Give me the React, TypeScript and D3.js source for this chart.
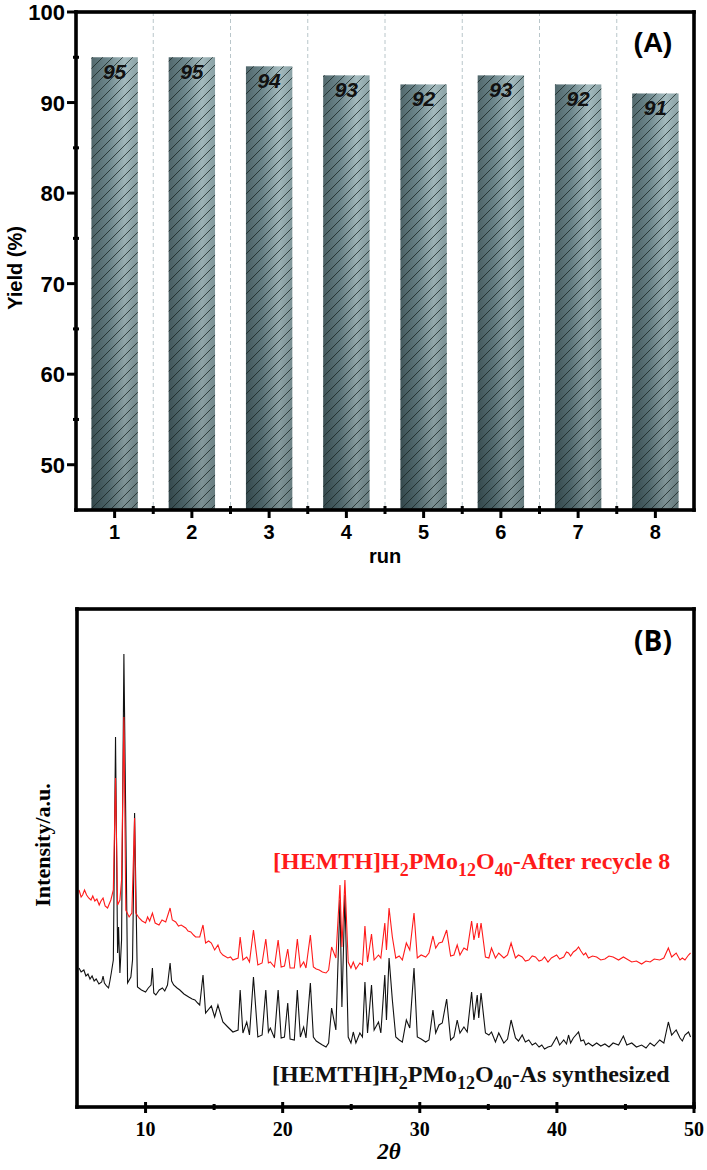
import * as d3 from 'd3'

// ---- panel A: recycling yields ----
const runs = ['1', '2', '3', '4', '5', '6', '7', '8']
const yields = [95, 95, 94, 93, 92, 93, 92, 91]
const yieldTicks = [50, 60, 70, 80, 90, 100]
const yieldMinorTicks = [55, 65, 75, 85, 95]

// ---- panel B: XRD patterns (2θ, intensity a.u.) ----
const thetaTicks = [10, 20, 30, 40, 50]
const thetaMinorTicks = [15, 25, 35, 45]

const asSynthesized: [number, number][] = [
  [5.15, 139], [5.3, 135], [5.5, 137], [5.65, 131], [5.8, 133], [5.95, 128], [6.1, 131], [6.25, 126],
  [6.4, 128], [6.6, 123], [6.8, 125], [6.9, 131], [7.0, 124], [7.15, 121], [7.3, 119], [7.4, 126],
  [7.5, 134], [7.65, 147], [7.81, 370], [7.96, 154], [8.03, 180], [8.13, 134], [8.25, 167], [8.42, 453],
  [8.69, 124], [8.93, 130], [9.05, 147], [9.2, 294], [9.41, 120], [9.7, 117], [10.0, 115], [10.2, 119],
  [10.4, 122], [10.5, 139], [10.6, 114], [10.75, 112], [11.0, 117], [11.23, 119], [11.4, 116],
  [11.6, 122], [11.79, 144], [11.9, 126], [12.05, 122], [12.3, 119], [12.5, 117], [12.8, 113],
  [13.15, 110], [13.4, 108], [13.6, 107], [13.8, 104], [13.95, 102], [14.19, 132], [14.38, 94],
  [14.8, 101], [15.04, 90], [15.28, 102], [15.64, 85], [16.0, 80], [16.37, 75], [16.75, 77], [16.9, 117],
  [17.1, 74], [17.38, 85], [17.58, 72], [17.87, 130], [18.19, 70], [18.5, 72], [18.77, 117], [18.96, 75],
  [19.1, 79], [19.4, 69], [19.67, 117], [19.89, 69], [20.13, 70], [20.37, 104], [20.54, 68], [20.85, 67],
  [21.07, 117], [21.29, 70], [21.53, 80], [21.7, 69], [22.02, 124], [22.24, 70], [22.45, 66],
  [22.67, 64], [22.9, 62], [23.16, 60], [23.35, 64], [23.57, 99], [23.88, 77], [24.18, 207], [24.32, 100],
  [24.54, 212], [24.78, 70], [24.98, 64], [25.15, 75], [25.34, 64], [25.63, 74], [25.82, 70], [26.0, 125],
  [26.19, 74], [26.48, 122], [26.67, 77], [26.99, 85], [27.16, 74], [27.45, 132], [27.57, 87],
  [27.76, 149], [28.0, 107], [28.25, 70], [28.5, 67], [28.73, 65], [29.02, 87], [29.27, 79], [29.58, 139],
  [29.82, 70], [30.1, 68], [30.43, 65], [30.67, 67], [30.96, 97], [31.16, 74], [31.4, 82], [31.64, 84],
  [31.96, 108], [32.25, 67], [32.49, 70], [32.73, 87], [32.93, 74], [33.22, 80], [33.46, 75],
  [33.78, 115], [33.95, 87], [34.19, 112], [34.3, 89], [34.47, 114], [34.79, 74], [35.04, 72], [35.23, 75],
  [35.52, 65], [35.76, 74], [36.13, 64], [36.4, 68], [36.66, 87], [36.98, 69], [37.2, 66], [37.47, 72],
  [37.7, 65], [37.95, 67], [38.2, 62], [38.44, 64], [38.7, 60], [38.9, 62], [39.1, 58], [39.35, 60],
  [39.6, 61], [39.98, 70], [40.2, 62], [40.5, 67], [40.7, 63], [40.85, 72], [41.0, 64], [41.2, 69],
  [41.58, 75], [41.75, 66], [41.95, 67], [42.1, 62], [42.3, 64], [42.6, 61], [42.9, 64], [43.2, 61],
  [43.5, 63], [43.8, 60], [44.1, 64], [44.5, 62], [44.85, 71], [45.1, 62], [45.46, 64], [45.8, 60],
  [46.18, 62], [46.5, 59], [46.8, 64], [47.1, 61], [47.5, 67], [47.8, 64], [48.13, 85], [48.37, 72],
  [48.7, 77], [48.98, 69], [49.15, 66], [49.34, 72], [49.6, 75], [49.75, 70],
]

const afterRecycle: [number, number][] = [
  [5.15, 217], [5.3, 210], [5.41, 212], [5.55, 217], [5.7, 212], [5.85, 209], [6.02, 207], [6.15, 211],
  [6.3, 206], [6.45, 208], [6.62, 202], [6.75, 206], [6.9, 209], [7.05, 201], [7.23, 199], [7.35, 203],
  [7.47, 207], [7.65, 217], [7.81, 329], [7.96, 202], [8.13, 207], [8.25, 227], [8.42, 390], [8.56, 197],
  [8.8, 190], [9.0, 194], [9.2, 289], [9.29, 194], [9.53, 189], [9.75, 186], [10.0, 184], [10.15, 190],
  [10.3, 186], [10.5, 194], [10.7, 184], [10.98, 182], [11.2, 187], [11.47, 185], [11.79, 199],
  [11.95, 187], [12.2, 185], [12.4, 181], [12.6, 182], [12.93, 179], [13.1, 176], [13.3, 175],
  [13.5, 172], [13.65, 170], [13.95, 170], [14.19, 182], [14.38, 164], [14.6, 166], [14.8, 164],
  [15.04, 157], [15.28, 162], [15.45, 155], [15.64, 152], [16.0, 149], [16.2, 150], [16.37, 147],
  [16.75, 149], [16.9, 170], [17.1, 147], [17.38, 150], [17.58, 145], [17.87, 177], [18.19, 142],
  [18.5, 144], [18.77, 168], [18.96, 144], [19.1, 145], [19.4, 140], [19.67, 167], [19.89, 140],
  [20.13, 141], [20.37, 158], [20.54, 139], [20.85, 139], [21.07, 168], [21.29, 140], [21.53, 145],
  [21.7, 139], [22.02, 172], [22.24, 140], [22.45, 138], [22.67, 137], [22.9, 135], [23.16, 134],
  [23.35, 137], [23.57, 160], [23.88, 149], [24.18, 222], [24.32, 160], [24.54, 227], [24.78, 145],
  [24.98, 139], [25.15, 145], [25.34, 138], [25.63, 144], [25.82, 142], [26.0, 181], [26.19, 145],
  [26.48, 173], [26.67, 147], [26.99, 152], [27.16, 149], [27.45, 184], [27.57, 157], [27.76, 199],
  [28.0, 170], [28.25, 149], [28.5, 151], [28.73, 147], [29.02, 164], [29.27, 157], [29.58, 194],
  [29.82, 149], [30.1, 152], [30.43, 150], [30.67, 154], [30.96, 171], [31.16, 159], [31.4, 164],
  [31.64, 165], [31.96, 177], [32.25, 151], [32.49, 152], [32.73, 162], [32.93, 152], [33.22, 159],
  [33.46, 157], [33.78, 186], [33.95, 167], [34.19, 184], [34.3, 169], [34.47, 184], [34.79, 150],
  [35.04, 149], [35.23, 159], [35.52, 149], [35.76, 154], [36.13, 149], [36.4, 152], [36.66, 164],
  [36.98, 149], [37.2, 152], [37.47, 150], [37.7, 146], [37.95, 147], [38.2, 151], [38.44, 150],
  [38.7, 146], [38.9, 147], [39.1, 150], [39.35, 145], [39.6, 149], [39.98, 152], [40.2, 148],
  [40.5, 150], [40.7, 155], [40.85, 154], [41.0, 151], [41.2, 155], [41.4, 157], [41.58, 160],
  [41.75, 156], [41.95, 152], [42.1, 154], [42.3, 149], [42.6, 151], [42.9, 150], [43.2, 147],
  [43.5, 148], [43.8, 151], [44.1, 150], [44.5, 147], [44.85, 150], [45.1, 148], [45.46, 145],
  [45.8, 146], [46.18, 143], [46.5, 146], [46.8, 145], [47.1, 148], [47.5, 147], [47.8, 149],
  [48.13, 159], [48.37, 150], [48.7, 154], [48.98, 147], [49.15, 149], [49.34, 147], [49.6, 152],
  [49.75, 154],
]

const SANS = '"Liberation Sans", Arial, sans-serif'
const SERIF = '"Liberation Serif", "Times New Roman", serif'

// plot frame drawn as four filled bars
const Frame = ({ x0, x1, y0, y1 }: { x0: number; x1: number; y0: number; y1: number }) => {
  const t = 3.6
  return (
    <g fill="#000">
      <rect x={x0 - t / 2} y={y0 - t / 2} width={x1 - x0 + t} height={t} />
      <rect x={x0 - t / 2} y={y1 - t / 2} width={x1 - x0 + t} height={t} />
      <rect x={x0 - t / 2} y={y0 - t / 2} width={t} height={y1 - y0 + t} />
      <rect x={x1 - t / 2} y={y0 - t / 2} width={t} height={y1 - y0 + t} />
    </g>
  )
}

const App = () => {
  const W = 707
  const H = 1170

  // panel A scales
  const xA = d3.scaleBand().domain(runs).range([76, 694]).padding(0)
  const yA = d3.scaleLinear().domain([45, 100]).range([510, 12])
  const barW = xA.bandwidth() * 0.6
  const boundaries = runs.slice(0, -1).map((r) => xA(r)! + xA.bandwidth())
  const [axL, axR] = xA.range()

  // panel B scales
  const xB = d3.scaleLinear().domain([5, 50]).range([77, 694])
  const yB = d3.scaleLinear().domain([0, 498]).range([1107, 609])
  const line = d3
    .line<[number, number]>()
    .x((d) => xB(d[0]))
    .y((d) => yB(d[1]))

  return (
    <svg
      width={W}
      height={H}
      style={{ position: 'absolute', left: 0, top: 0, background: '#fff' }}
    >
      <defs>
        <linearGradient id="barH" x1="0" y1="0" x2="1" y2="0">
          <stop offset="0%" stopColor="#3e575c" />
          <stop offset="35%" stopColor="#5d7a80" />
          <stop offset="72%" stopColor="#9ab3b7" />
          <stop offset="100%" stopColor="#7d979b" />
        </linearGradient>
        <linearGradient id="barV" x1="0" y1="0" x2="0" y2="1">
          <stop offset="0%" stopColor="#ffffff" stopOpacity={0.1} />
          <stop offset="100%" stopColor="#000000" stopOpacity={0.2} />
        </linearGradient>
        <pattern id="hatch" patternUnits="userSpaceOnUse" width={10} height={10}>
          <path d="M0,10 L10,0 M-2,2 L2,-2 M8,12 L12,8" stroke="#15211f" strokeWidth={0.75} />
        </pattern>
      </defs>

      {/* ---------- Panel A ---------- */}
      {boundaries.map((bx) => (
        <line
          key={bx}
          x1={bx}
          x2={bx}
          y1={yA(100)}
          y2={yA(45)}
          stroke="#b9c6ca"
          strokeWidth={1}
          strokeDasharray="4,3"
        />
      ))}

      {runs.map((r, i) => {
        const x0 = xA(r)! + (xA.bandwidth() - barW) / 2
        const y0 = yA(yields[i])
        const h = yA(45) - y0
        return (
          <g key={r}>
            <rect x={x0} y={y0} width={barW} height={h} fill="url(#barH)" />
            <rect x={x0} y={y0} width={barW} height={h} fill="url(#barV)" />
            <rect x={x0} y={y0} width={barW} height={h} fill="url(#hatch)" />
            <text
              x={x0 + barW / 2}
              y={y0 + 22}
              textAnchor="middle"
              fontFamily={SANS}
              fontWeight="bold"
              fontStyle="italic"
              fontSize={21}
              fill="#111"
            >
              {yields[i]}
            </text>
          </g>
        )
      })}

      <Frame x0={axL} x1={axR} y0={yA(100)} y1={yA(45)} />

      {/* y ticks */}
      {yieldTicks.map((t) => (
        <g key={t}>
          <line x1={67} x2={76} y1={yA(t)} y2={yA(t)} stroke="#000" strokeWidth={3} />
          <text
            x={65}
            y={yA(t) + 8}
            textAnchor="end"
            fontFamily={SANS}
            fontWeight="bold"
            fontSize={22}
          >
            {t}
          </text>
        </g>
      ))}
      {yieldMinorTicks.map((t) => (
        <line key={t} x1={73} x2={79} y1={yA(t)} y2={yA(t)} stroke="#000" strokeWidth={3} />
      ))}

      {/* x ticks */}
      {runs.map((r) => {
        const cx = xA(r)! + xA.bandwidth() / 2
        return (
          <g key={r}>
            <line x1={cx} x2={cx} y1={510} y2={518} stroke="#000" strokeWidth={3} />
            <text
              x={cx}
              y={539}
              textAnchor="middle"
              fontFamily={SANS}
              fontWeight="bold"
              fontSize={20}
            >
              {r}
            </text>
          </g>
        )
      })}
      {boundaries.map((bx) => (
        <line key={bx} x1={bx} x2={bx} y1={506} y2={514} stroke="#000" strokeWidth={3} />
      ))}

      <text x={385} y={563} textAnchor="middle" fontFamily={SANS} fontWeight="bold" fontSize={20}>
        run
      </text>
      <text
        transform={`translate(22,268) rotate(-90)`}
        textAnchor="middle"
        fontFamily={SANS}
        fontWeight="bold"
        fontSize={20}
      >
        Yield (%)
      </text>
      <text x={653} y={52} textAnchor="middle" fontFamily={SANS} fontWeight="bold" fontSize={28}>
        (A)
      </text>

      {/* ---------- Panel B ---------- */}
      <path d={line(asSynthesized) ?? ''} fill="none" stroke="#111" strokeWidth={1.1} />
      <path d={line(afterRecycle) ?? ''} fill="none" stroke="#ff1a1a" strokeWidth={1.1} />

      <Frame x0={xB(5)} x1={xB(50)} y0={yB(498)} y1={yB(0)} />

      {thetaTicks.map((t) => (
        <g key={t}>
          <line x1={xB(t)} x2={xB(t)} y1={yB(0) - 5} y2={yB(0) + 6} stroke="#000" strokeWidth={3} />
          <text
            x={xB(t)}
            y={1136}
            textAnchor="middle"
            fontFamily={SERIF}
            fontWeight="bold"
            fontSize={20}
          >
            {t}
          </text>
        </g>
      ))}
      {thetaMinorTicks.map((t) => (
        <line key={t} x1={xB(t)} x2={xB(t)} y1={yB(0) - 3} y2={yB(0) + 3} stroke="#000" strokeWidth={3} />
      ))}

      <text x={389} y={1159} textAnchor="middle" fontFamily={SERIF} fontWeight="bold" fontStyle="italic" fontSize={23}>
        2θ
      </text>
      <text
        transform={`translate(50,845) rotate(-90)`}
        textAnchor="middle"
        fontFamily={SERIF}
        fontWeight="bold"
        fontSize={22}
      >
        Intensity/a.u.
      </text>
      <text x={653} y={651} textAnchor="middle" fontFamily={'"Open Sans", "Noto Sans", sans-serif'} fontWeight="bold" fontSize={28}>
        (B)
      </text>

      <text x={273} y={869} fontFamily={SERIF} fontWeight="bold" fontSize={24} fill="#ff1a1a">
        [HEMTH]H<tspan dy={7} fontSize={18}>2</tspan>
        <tspan dy={-7}>PMo</tspan>
        <tspan dy={7} fontSize={18}>12</tspan>
        <tspan dy={-7}>O</tspan>
        <tspan dy={7} fontSize={18}>40</tspan>
        <tspan dy={-7}>-After recycle 8</tspan>
      </text>
      <text x={272} y={1082} fontFamily={SERIF} fontWeight="bold" fontSize={24} fill="#111">
        [HEMTH]H<tspan dy={7} fontSize={18}>2</tspan>
        <tspan dy={-7}>PMo</tspan>
        <tspan dy={7} fontSize={18}>12</tspan>
        <tspan dy={-7}>O</tspan>
        <tspan dy={7} fontSize={18}>40</tspan>
        <tspan dy={-7}>-As synthesized</tspan>
      </text>
    </svg>
  )
}

export default App
